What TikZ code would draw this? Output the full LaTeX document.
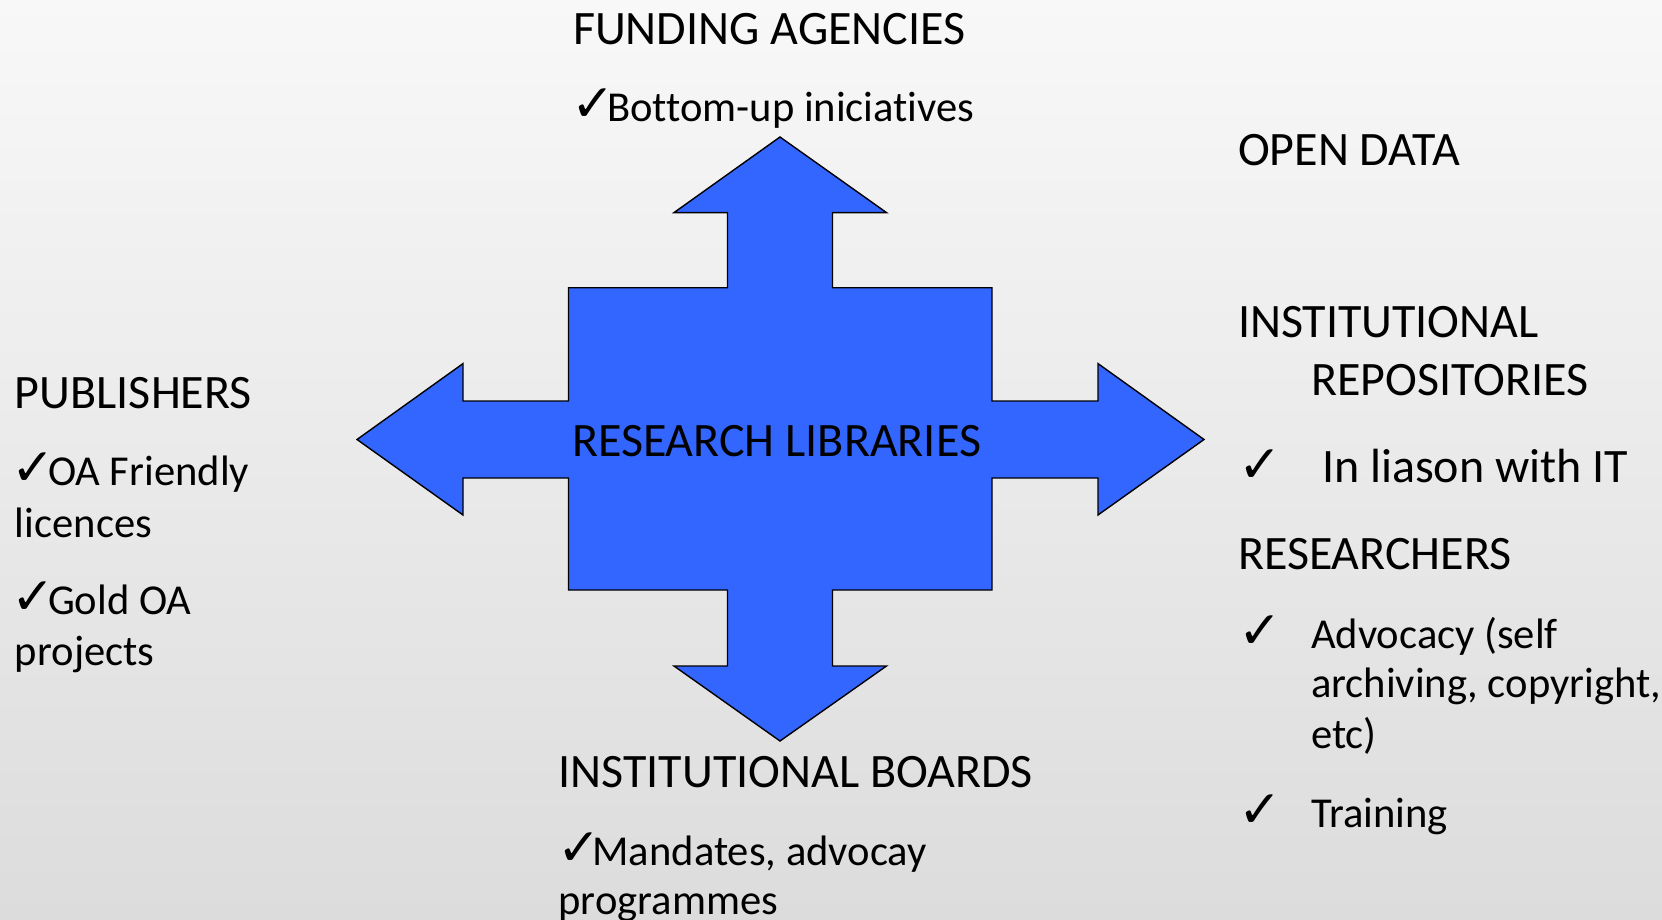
\documentclass[tikz,border=0pt]{standalone}
\usepackage{fontspec}
\setmainfont{Carlito}[Ligatures=NoCommon]
\newfontfamily\chkfont{DejaVu Sans}
\definecolor{shapeblue}{HTML}{3366FF}
\definecolor{bgtop}{HTML}{F8F8F8}
\definecolor{bgbot}{HTML}{DCDCDC}
\newcommand{\ckbox}[1]{\makebox[#1][l]{\chkfont\fontsize{26}{28}\selectfont ✓}}
\tikzset{
  txt/.style={anchor=base west, inner sep=0pt, outer sep=0pt, font=\fontsize{24}{26}\selectfont, text=black},
  item/.style={anchor=base west, inner sep=0pt, outer sep=0pt, font=\fontsize{21.3}{23}\selectfont, text=black},
  bigarrow/.style={fill=shapeblue, draw=black, line width=0.7pt, line join=miter}
}
\begin{document}
\begin{tikzpicture}[x=0.5pt,y=-0.5pt]
\useasboundingbox (0,0) rectangle (1662,920);
\shade[top color=bgtop, bottom color=bgbot] (0,0) rectangle (1662,920);
% central four-way arrow
\draw[bigarrow] (780,137) -- (886.5,212.6) -- (832.5,212.6) -- (832.5,287.7) -- (992,287.7) -- (992,401) -- (1098,401) -- (1098,363.6) -- (1204,439.5) -- (1098,515) -- (1098,478) -- (992,478) -- (992,590) -- (832.5,590) -- (832.5,666) -- (886.5,666) -- (780,741) -- (674,666) -- (727.5,666) -- (727.5,590) -- (568.5,590) -- (568.5,478) -- (463,478) -- (463,515) -- (357,439.5) -- (463,363.6) -- (463,401) -- (568.5,401) -- (568.5,287.7) -- (727.5,287.7) -- (727.5,212.6) -- (674,212.6) -- cycle;
\node[txt] (center) at (572,456) {RESEARCH LIBRARIES};
% top
\node[txt] (fund) at (573,44.5) {FUNDING AGENCIES};
\node[item] (fund1) at (571,122) {\ckbox{18pt}Bottom-up iniciatives};
% right
\node[txt] (open) at (1238,166) {OPEN DATA};
\node[txt] (inst1) at (1238,337) {INSTITUTIONAL};
\node[txt] (inst2) at (1311,395) {REPOSITORIES};
\node[txt] (inst3) at (1238,482) {\ckbox{42pt}In liason with IT};
\node[txt] (res) at (1238,569) {RESEARCHERS};
\node[item] (res1) at (1238,648) {\ckbox{36.5pt}Advocacy (self};
\node[item] (res2) at (1311,697.5) {archiving, copyright,};
\node[item] (res3) at (1311,748) {etc)};
\node[item] (res4) at (1238,827) {\ckbox{36.5pt}Training};
% left
\node[txt] (pub) at (15,408) {PUBLISHERS};
\node[item] (pub1) at (11,485.5) {\ckbox{18.5pt}OA Friendly};
\node[item] (pub2) at (15,537) {licences};
\node[item] (pub3) at (11,614) {\ckbox{18.5pt}Gold OA};
\node[item] (pub4) at (15,665) {projects};
% bottom
\node[txt] (board) at (558.6,787.6) {INSTITUTIONAL BOARDS};
\node[item] (board1) at (557,865) {\ckbox{17.75pt}Mandates, advocay};
\node[item] (board2) at (558.6,914) {programmes};
\end{tikzpicture}
\end{document}
